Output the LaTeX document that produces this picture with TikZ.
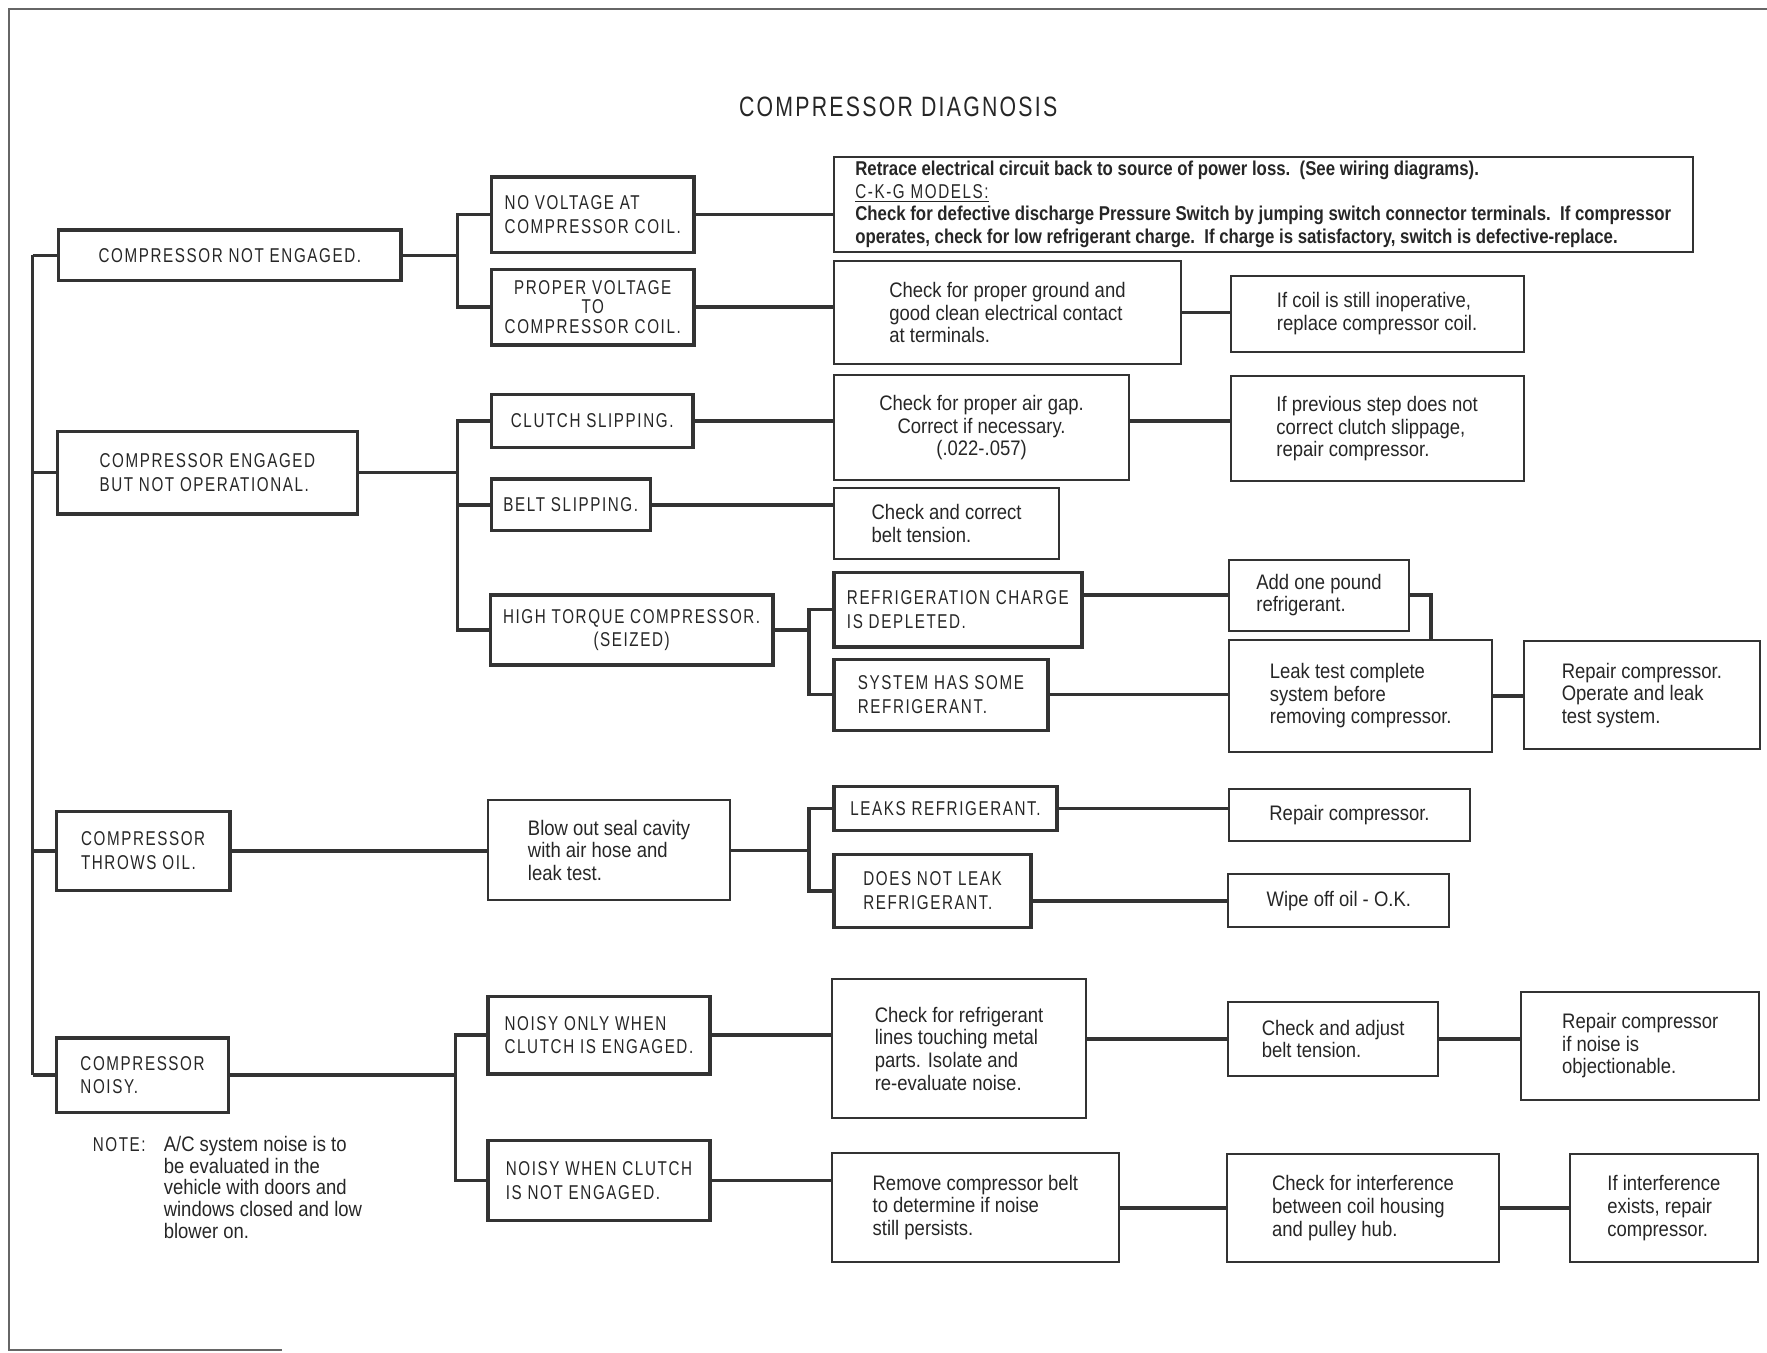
\documentclass[tikz,border=0pt]{standalone}
\usepackage{fontspec}
\setmainfont{Liberation Sans}[FakeStretch=0.88]
\newfontfamily\capfont{Liberation Sans}[FakeStretch=0.76,LetterSpace=8]
\newfontfamily\retracefont{Liberation Sans}[FakeStretch=0.84]
\usepackage{tikz}
\usetikzlibrary{positioning}

\newcommand\pxu{0.5635pt}

\begin{document}
\begin{tikzpicture}[x=0.5635pt, y=-0.5635pt, line join=miter,
  box/.style 2 args={draw=black!80, line width=1pt, inner sep=0pt,
    minimum width=#1*\pxu, minimum height=#2*\pxu, align=left, text=black!85,
    font=\fontsize{10.5}{11.3}\selectfont},
  capbox/.style 2 args={box={#1}{#2}, line width=1.7pt,
    font=\capfont\fontsize{10}{11.8}\selectfont},
  link/.style={draw=black!80, line width=1.7pt}]
\useasboundingbox (0,0) rectangle (1568,1200.6);
% page frame
\draw[black!60, line width=0.6pt] (1568,8) -- (8,8) -- (8,1198) -- (250,1198);
\node[font=\capfont\fontsize{14}{16}\selectfont, text=black!85] (title) at (797,95) {COMPRESSOR DIAGNOSIS};
% first column
\node[capbox={304}{45}] (notEng) at (204,226.5) {COMPRESSOR NOT ENGAGED.};
\node[capbox={266}{73}] (engNotOp) at (184,419.5) {COMPRESSOR ENGAGED\\BUT NOT OPERATIONAL.};
\node[capbox={154}{70}] (throwsOil) at (127,755) {COMPRESSOR\\THROWS OIL.};
\node[capbox={153}{66}] (noisy) at (126.5,954) {COMPRESSOR\\NOISY.};
\node[anchor=north west, inner sep=0pt, text=black!85, font=\fontsize{10.5}{10.7}\selectfont] (note) at (82,1008)
  {\begin{tabular}{@{}p{35.5pt}@{}l@{}}
   {\capfont\fontsize{10}{10.7}\selectfont NOTE:} & A/C system noise is to\\
   & be evaluated in the\\
   & vehicle with doors and\\
   & windows closed and low\\
   & blower on.
   \end{tabular}};
% second column
\node[capbox={180}{67}] (noVolt) at (526,190.5) {NO VOLTAGE AT\\COMPRESSOR COIL.};
\node[capbox={180}{67}, align=center, font=\capfont\fontsize{10}{9.8}\selectfont] (propVolt) at (526,272.5) {PROPER VOLTAGE\\TO\\COMPRESSOR COIL.};
\node[capbox={179}{47}] (clutchSlip) at (525.5,373.5) {CLUTCH SLIPPING.};
\node[capbox={141}{46}] (beltSlip) at (506.5,448) {BELT SLIPPING.};
\node[capbox={251}{62}, align=center] (highTorque) at (560.5,559) {HIGH TORQUE COMPRESSOR.\\(SEIZED)};
\node[box={215}{89}] (blowOut) at (540.5,754.5) {Blow out seal cavity\\with air hose and\\leak test.};
\node[capbox={197}{69}] (noisyEng) at (531.5,918.5) {NOISY ONLY WHEN\\CLUTCH IS ENGAGED.};
\node[capbox={197}{71}] (noisyNotEng) at (531.5,1047.5) {NOISY WHEN CLUTCH\\IS NOT ENGAGED.};
% third column
\node[box={762}{85}, font=\retracefont\bfseries\fontsize{10}{11.3}\selectfont] (retrace) at (1121,181.5)
  {Retrace electrical circuit back to source of power loss.\ \ (See wiring diagrams).\\
   {\capfont\mdseries\underline{C-K-G MODELS:}}\\
   Check for defective discharge Pressure Switch by jumping switch connector terminals.\ \ If compressor\\
   operates, check for low refrigerant charge.\ \ If charge is satisfactory, switch is defective-replace.};
\node[box={308}{91}] (ground) at (894,277.5) {Check for proper ground and\\good clean electrical contact\\at terminals.};
\node[box={260}{67}] (coilInop) at (1222,278.5) {If coil is still inoperative,\\replace compressor coil.};
\node[box={262}{93}, align=center] (airGap) at (871,379.5) {Check for proper air gap.\\Correct if necessary.\\(.022-.057)};
\node[box={260}{93}] (prevStep) at (1222,380.5) {If previous step does not\\correct clutch slippage,\\repair compressor.};
\node[box={200}{63}] (beltTension) at (840,464.5) {Check and correct\\belt tension.};
\node[capbox={220}{66}] (chargeDep) at (850,541) {REFRIGERATION CHARGE\\IS DEPLETED.};
\node[capbox={190}{63}] (someRefr) at (835,616.5) {SYSTEM HAS SOME\\REFRIGERANT.};
\node[box={159}{63}] (addPound) at (1170.5,528) {Add one pound\\refrigerant.};
\node[box={233}{99}] (leakTest) at (1207.5,617.5) {Leak test complete\\system before\\removing compressor.};
\node[box={210}{96}] (repairLeak) at (1457,617) {Repair compressor.\\Operate and leak\\test system.};
\node[capbox={198}{39}] (leaksRefr) at (839,717.5) {LEAKS REFRIGERANT.};
\node[capbox={175}{65}] (noLeak) at (827.5,790.5) {DOES NOT LEAK\\REFRIGERANT.};
\node[box={213}{46}] (repairComp) at (1197.5,723) {Repair compressor.};
\node[box={196}{47}] (wipeOff) at (1188,799.5) {Wipe off oil - O.K.};
\node[box={226}{123}] (linesTouch) at (851,930.5) {Check for refrigerant\\lines touching metal\\parts. Isolate and\\re-evaluate noise.};
\node[box={186}{66}] (adjustBelt) at (1183,922) {Check and adjust\\belt tension.};
\node[box={211}{96}] (noiseObj) at (1455.5,928) {Repair compressor\\if noise is\\objectionable.};
\node[box={255}{97}] (removeBelt) at (865.5,1071.5) {Remove compressor belt\\to determine if noise\\still persists.};
\node[box={241}{96}] (interference) at (1209.5,1072) {Check for interference\\between coil housing\\and pulley hub.};
\node[box={167}{96}] (interfExists) at (1476.5,1072) {If interference\\exists, repair\\compressor.};
% connectors
\coordinate (spine) at (29,0);
\coordinate (busA) at (406,0);
\coordinate (busD) at (404,0);
\coordinate (busE) at (718,0);
\coordinate (addDrop) at (1270,0);
\draw[link] (spine |- notEng.west) -- (spine |- noisy.west);
\foreach \n in {notEng,engNotOp,throwsOil,noisy}
  \draw[link] (spine |- \n.west) -- (\n.west);
\draw[link] (notEng.east) -- (busA |- notEng.east);
\draw[link] (noVolt.west) -- (busA |- noVolt.west) -- (busA |- propVolt.west) -- (propVolt.west);
\draw[link] (engNotOp.east) -- (busA |- engNotOp.east);
\draw[link] (clutchSlip.west) -- (busA |- clutchSlip.west) -- (busA |- highTorque.west) -- (highTorque.west);
\draw[link] (busA |- beltSlip.west) -- (beltSlip.west);
\draw[link] (throwsOil.east) -- (throwsOil.east -| blowOut.west);
\draw[link] (noisy.east) -- (busD |- noisy.east);
\draw[link] (noisyEng.west) -- (busD |- noisyEng.west) -- (busD |- noisyNotEng.west) -- (noisyNotEng.west);
\draw[link] (noVolt.east) -- (noVolt.east -| retrace.west);
\draw[link] (propVolt.east) -- (propVolt.east -| ground.west);
\draw[link] (ground.east) -- (ground.east -| coilInop.west);
\draw[link] (clutchSlip.east) -- (clutchSlip.east -| airGap.west);
\draw[link] (airGap.east |- clutchSlip.east) -- (prevStep.west |- clutchSlip.east);
\draw[link] (beltSlip.east) -- (beltSlip.east -| beltTension.west);
\draw[link] (highTorque.east) -- (busE |- highTorque.east);
\draw[link] (chargeDep.west) -- (busE |- chargeDep.west) -- (busE |- someRefr.west) -- (someRefr.west);
\draw[link] (addPound.west -| chargeDep.east) -- (addPound.west);
\draw[link] (addPound.east) -- (addDrop |- addPound.east) -- (addDrop |- leakTest.north);
\draw[link] (someRefr.east) -- (someRefr.east -| leakTest.west);
\draw[link] (leakTest.east) -- (leakTest.east -| repairLeak.west);
\draw[link] (blowOut.east) -- (busE |- blowOut.east);
\draw[link] (leaksRefr.west) -- (busE |- leaksRefr.west) -- (busE |- noLeak.west) -- (noLeak.west);
\draw[link] (leaksRefr.east) -- (leaksRefr.east -| repairComp.west);
\draw[link] (wipeOff.west -| noLeak.east) -- (wipeOff.west);
\draw[link] (noisyEng.east) -- (noisyEng.east -| linesTouch.west);
\draw[link] (adjustBelt.west -| linesTouch.east) -- (adjustBelt.west);
\draw[link] (adjustBelt.east) -- (adjustBelt.east -| noiseObj.west);
\draw[link] (noisyNotEng.east) -- (noisyNotEng.east -| removeBelt.west);
\draw[link] (removeBelt.east |- interference.west) -- (interference.west);
\draw[link] (interference.east) -- (interference.east -| interfExists.west);
\end{tikzpicture}
\end{document}
